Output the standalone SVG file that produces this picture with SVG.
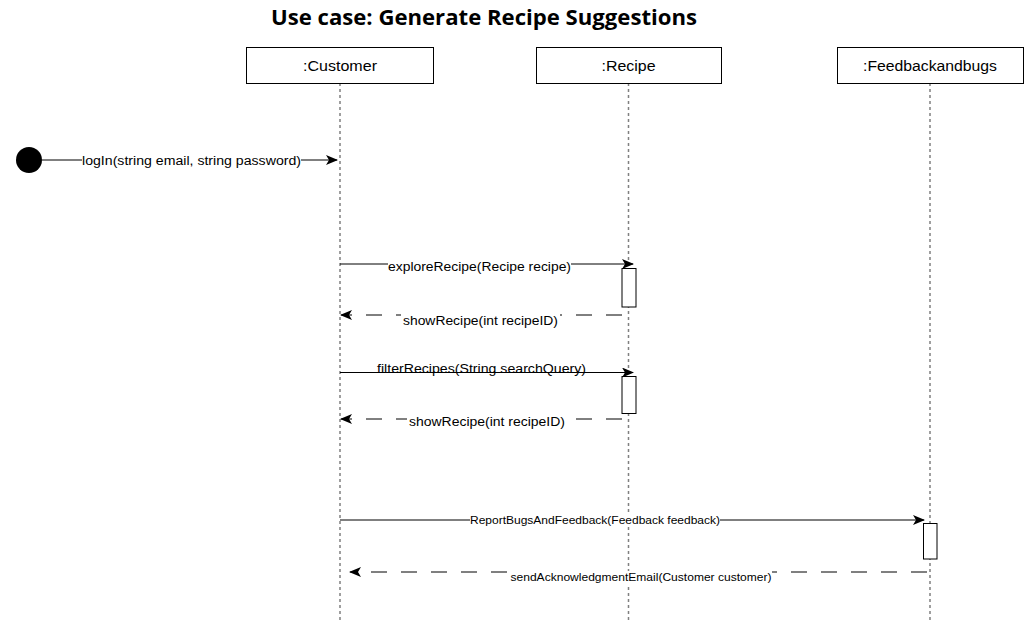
<svg xmlns="http://www.w3.org/2000/svg" width="1031" height="630" viewBox="0 0 1031 630">
<style>
.box{fill:#fff;stroke:#000;stroke-width:1}
.life{stroke:#808080;stroke-width:1.5;stroke-dasharray:3 3;fill:none}
.act{fill:#fff;stroke:#000;stroke-width:1}
.msg{stroke:#000;stroke-width:1;fill:none}
.ret{stroke:#000;stroke-width:1;fill:none;stroke-dasharray:16 14}
.lbl{font-family:"Liberation Sans",Arial,sans-serif;font-size:12px;fill:#000;text-anchor:middle}
.name{font-family:"Liberation Sans",Arial,sans-serif;font-size:14px;fill:#000;text-anchor:middle}
.title{font-family:"Open Sans","Liberation Sans",sans-serif;font-size:21px;font-weight:bold;fill:#000;text-anchor:middle}
.bg{fill:#fff}
</style>
<defs>
<marker id="arr" viewBox="0 0 12 10" refX="11" refY="5" markerWidth="12" markerHeight="10" markerUnits="userSpaceOnUse" orient="auto">
<path d="M0,0 L12,5 L0,10 L3,5 Z" fill="#000"/>
</marker>
</defs>
<rect width="1031" height="630" fill="#fff"/>
<text class="title" x="484" y="25" textLength="426" lengthAdjust="spacingAndGlyphs">Use case: Generate Recipe Suggestions</text>

<g id="customer">
<line class="life" x1="340" y1="83" x2="340" y2="620"/>
<rect class="box" x="246.5" y="47.5" width="187" height="36"/>
<text class="name" x="340" y="71" textLength="74" lengthAdjust="spacingAndGlyphs">:Customer</text>
</g>
<g id="recipe">
<line class="life" x1="628.5" y1="83" x2="628.5" y2="620"/>
<rect class="box" x="536.5" y="47.5" width="185" height="36"/>
<text class="name" x="628.5" y="71" textLength="54" lengthAdjust="spacingAndGlyphs">:Recipe</text>
<rect class="act" x="622" y="268.5" width="14" height="38.5"/>
<rect class="act" x="622" y="376.5" width="14" height="37"/>
</g>
<g id="feedbackandbugs">
<line class="life" x1="930" y1="83" x2="930" y2="620"/>
<rect class="box" x="837.5" y="47.5" width="186" height="36"/>
<text class="name" x="930" y="71" textLength="134" lengthAdjust="spacingAndGlyphs">:Feedbackandbugs</text>
<rect class="act" x="923.5" y="523.5" width="13.5" height="35.5"/>
</g>
<g id="start">
<circle cx="29" cy="160" r="13" fill="#000"/>
</g>

<g id="connectors">
<line class="msg" x1="42" y1="160" x2="337" y2="160" marker-end="url(#arr)"/>
<rect class="bg" x="82" y="153" width="219" height="14"/>
<text class="lbl" x="191.5" y="165" textLength="219" lengthAdjust="spacingAndGlyphs">logIn(string email, string password)</text>

<line class="msg" x1="340" y1="264" x2="633" y2="264" marker-end="url(#arr)"/>
<rect class="bg" x="388" y="259" width="183" height="14"/>
<text class="lbl" x="479.5" y="271" textLength="183" lengthAdjust="spacingAndGlyphs">exploreRecipe(Recipe recipe)</text>

<line class="ret" x1="622" y1="315" x2="341" y2="315" marker-end="url(#arr)"/>
<rect class="bg" x="401" y="309" width="159" height="16"/>
<text class="lbl" x="480.5" y="325" textLength="155" lengthAdjust="spacingAndGlyphs">showRecipe(int recipeID)</text>

<text class="lbl" x="481.5" y="373" textLength="209" lengthAdjust="spacingAndGlyphs">filterRecipes(String searchQuery)</text>
<line class="msg" x1="340" y1="372.5" x2="633" y2="372.5" marker-end="url(#arr)"/>

<line class="ret" x1="622" y1="419" x2="341" y2="419" marker-end="url(#arr)"/>
<rect class="bg" x="407" y="413" width="160" height="16"/>
<text class="lbl" x="487" y="426" textLength="156" lengthAdjust="spacingAndGlyphs">showRecipe(int recipeID)</text>

<line class="msg" x1="340" y1="520" x2="924" y2="520" marker-end="url(#arr)"/>
<rect class="bg" x="470" y="514" width="250" height="13"/>
<text class="lbl" x="595" y="524" style="font-size:10.5px" textLength="250" lengthAdjust="spacingAndGlyphs">ReportBugsAndFeedback(Feedback feedback)</text>

<line class="ret" x1="927" y1="572" x2="350" y2="572" marker-end="url(#arr)"/>
<rect class="bg" x="509" y="571" width="263" height="14"/>
<text class="lbl" x="641" y="581" style="font-size:10.5px" textLength="261" lengthAdjust="spacingAndGlyphs">sendAcknowledgmentEmail(Customer customer)</text>
</g>
</svg>
